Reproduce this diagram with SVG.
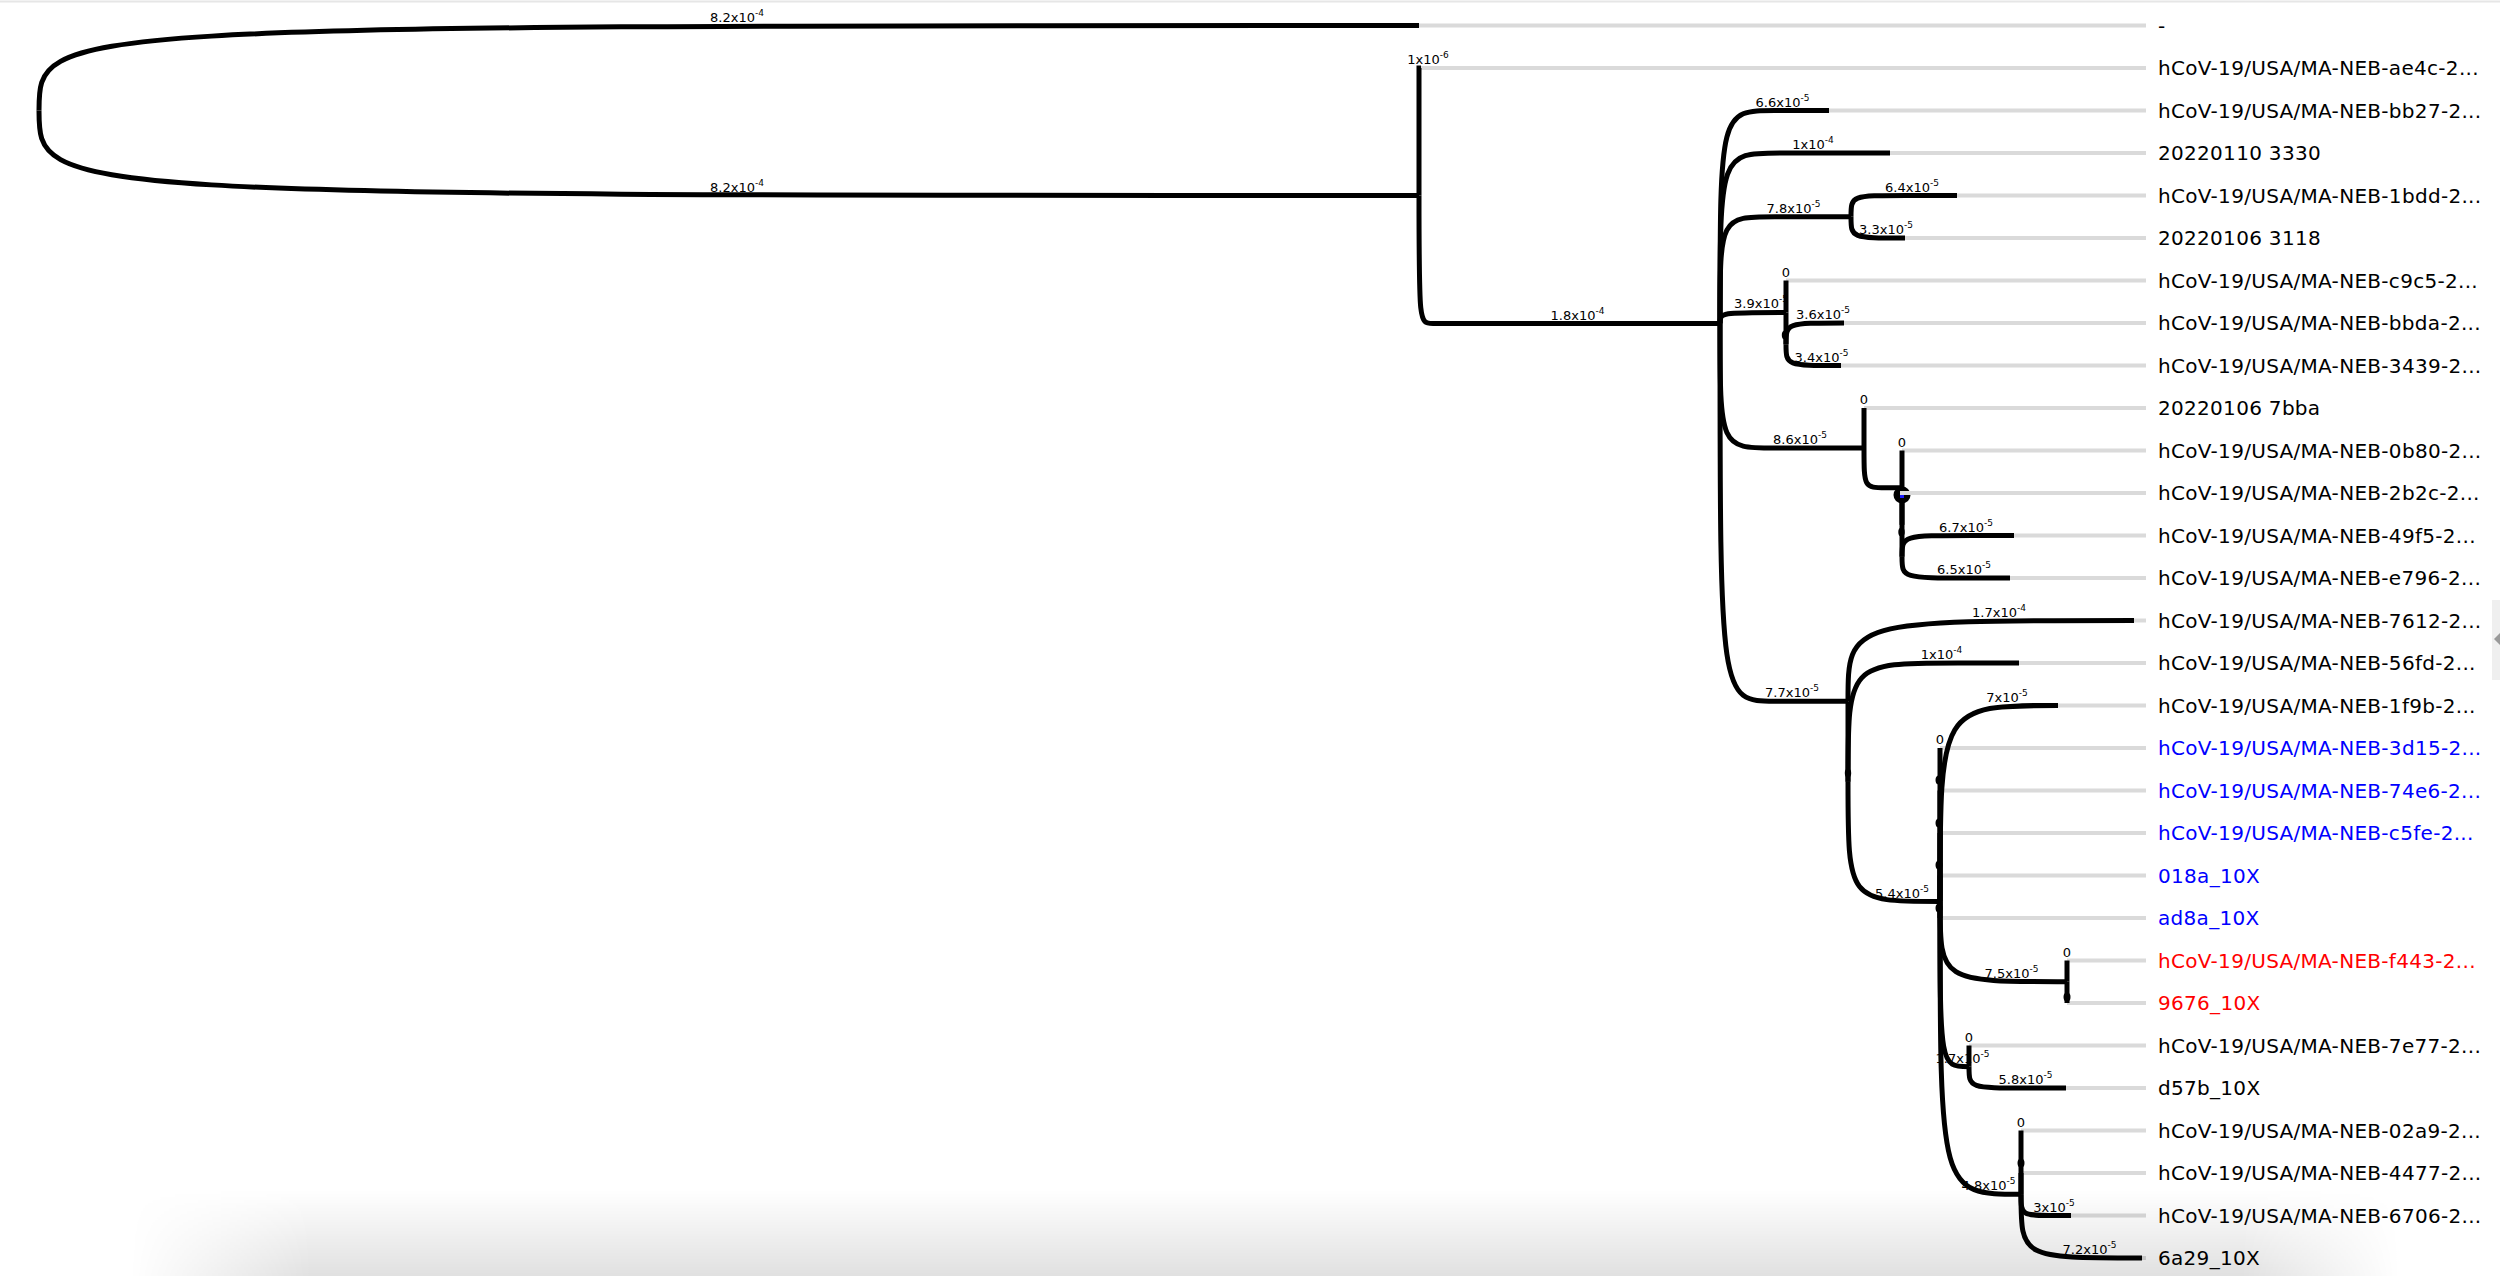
<svg xmlns="http://www.w3.org/2000/svg" width="2500" height="1276" viewBox="0 0 2500 1276">
<style>
.edge{fill:none;stroke:#000;stroke-width:5;stroke-linecap:butt}
.guide{stroke:#dadada;stroke-width:4}
.lbl{font-family:"DejaVu Sans","Liberation Sans",sans-serif;font-size:20px;letter-spacing:0.3px;fill:#000}
.blue{fill:#0000ff}
.red{fill:#ff0000}
.bl{font-family:"DejaVu Sans","Liberation Sans",sans-serif;font-size:13px;text-anchor:middle;fill:#000}
.sup{font-size:9px}
.dot{fill:#000}
</style>
<defs>
<linearGradient id="shadeV" x1="0" y1="0" x2="0" y2="1">
<stop offset="0" stop-color="#000" stop-opacity="0"/>
<stop offset="1" stop-color="#000" stop-opacity="0.12"/>
</linearGradient>
<linearGradient id="fadeH" x1="0" y1="0" x2="1" y2="0">
<stop offset="0" stop-color="#fff" stop-opacity="0"/>
<stop offset="0.08" stop-color="#fff" stop-opacity="1"/>
<stop offset="0.93" stop-color="#fff" stop-opacity="1"/>
<stop offset="1" stop-color="#fff" stop-opacity="0"/>
</linearGradient>
<mask id="shadeMask" maskUnits="userSpaceOnUse" x="0" y="1190" width="2500" height="86">
<rect x="130" y="1190" width="2270" height="86" fill="url(#fadeH)"/>
</mask>
</defs>
<rect x="0" y="0" width="2500" height="1276" fill="#fff"/>
<line x1="0" y1="1.5" x2="2500" y2="1.5" stroke="#e6e6e6" stroke-width="2"/>

<g id="branch-labels">
<text class="bl" x="737" y="21.5">8.2x10<tspan class="sup" dy="-6">-4</tspan></text>
<text class="bl" x="737" y="191.5">8.2x10<tspan class="sup" dy="-6">-4</tspan></text>
<text class="bl" x="1428" y="64">1x10<tspan class="sup" dy="-6">-6</tspan></text>
<text class="bl" x="1577.5" y="319.5">1.8x10<tspan class="sup" dy="-6">-4</tspan></text>
<text class="bl" x="1782.5" y="106.5">6.6x10<tspan class="sup" dy="-6">-5</tspan></text>
<text class="bl" x="1813" y="149">1x10<tspan class="sup" dy="-6">-4</tspan></text>
<text class="bl" x="1793.5" y="212.75">7.8x10<tspan class="sup" dy="-6">-5</tspan></text>
<text class="bl" x="1912" y="191.5">6.4x10<tspan class="sup" dy="-6">-5</tspan></text>
<text class="bl" x="1886" y="234">3.3x10<tspan class="sup" dy="-6">-5</tspan></text>
<text class="bl" x="1761" y="308.4">3.9x10<tspan class="sup" dy="-6">-5</tspan></text>
<text class="bl" x="1786" y="276.5">0</text>
<text class="bl" x="1823" y="319">3.6x10<tspan class="sup" dy="-6">-5</tspan></text>
<text class="bl" x="1821.5" y="361.5">3.4x10<tspan class="sup" dy="-6">-5</tspan></text>
<text class="bl" x="1800" y="444">8.6x10<tspan class="sup" dy="-6">-5</tspan></text>
<text class="bl" x="1864" y="404">0</text>
<text class="bl" x="1902" y="446.5">0</text>
<text class="bl" x="1966" y="531.5">6.7x10<tspan class="sup" dy="-6">-5</tspan></text>
<text class="bl" x="1964" y="574">6.5x10<tspan class="sup" dy="-6">-5</tspan></text>
<text class="bl" x="1792" y="697.2">7.7x10<tspan class="sup" dy="-6">-5</tspan></text>
<text class="bl" x="1999" y="616.5">1.7x10<tspan class="sup" dy="-6">-4</tspan></text>
<text class="bl" x="1941.5" y="659">1x10<tspan class="sup" dy="-6">-4</tspan></text>
<text class="bl" x="1902" y="897.5">5.4x10<tspan class="sup" dy="-6">-5</tspan></text>
<text class="bl" x="2007" y="701.5">7x10<tspan class="sup" dy="-6">-5</tspan></text>
<text class="bl" x="1940" y="744">0</text>
<text class="bl" x="2011.5" y="977.75">7.5x10<tspan class="sup" dy="-6">-5</tspan></text>
<text class="bl" x="2067" y="956.5">0</text>
<text class="bl" x="1962.5" y="1062.75">1.7x10<tspan class="sup" dy="-6">-5</tspan></text>
<text class="bl" x="1969" y="1041.5">0</text>
<text class="bl" x="2025.5" y="1084">5.8x10<tspan class="sup" dy="-6">-5</tspan></text>
<text class="bl" x="1988.5" y="1190.25">4.8x10<tspan class="sup" dy="-6">-5</tspan></text>
<text class="bl" x="2021" y="1126.5">0</text>
<text class="bl" x="2054" y="1211.5">3x10<tspan class="sup" dy="-6">-5</tspan></text>
<text class="bl" x="2089.5" y="1254">7.2x10<tspan class="sup" dy="-6">-5</tspan></text>
</g>

<g id="leaf-dash"><line class="guide" x1="1419" y1="25.5" x2="2146" y2="25.5"/><text class="lbl" x="2158" y="32.5">-</text></g>
<g id="leaf-ae4c"><line class="guide" x1="1421" y1="68" x2="2146" y2="68"/><text class="lbl" x="2158" y="75">hCoV-19/USA/MA-NEB-ae4c-2...</text></g>
<g id="leaf-bb27"><line class="guide" x1="1829" y1="110.5" x2="2146" y2="110.5"/><text class="lbl" x="2158" y="117.5">hCoV-19/USA/MA-NEB-bb27-2...</text></g>
<g id="leaf-3330"><line class="guide" x1="1890" y1="153" x2="2146" y2="153"/><text class="lbl" x="2158" y="160">20220110 3330</text></g>
<g id="leaf-1bdd"><line class="guide" x1="1957" y1="195.5" x2="2146" y2="195.5"/><text class="lbl" x="2158" y="202.5">hCoV-19/USA/MA-NEB-1bdd-2...</text></g>
<g id="leaf-3118"><line class="guide" x1="1905" y1="238" x2="2146" y2="238"/><text class="lbl" x="2158" y="245">20220106 3118</text></g>
<g id="leaf-c9c5"><line class="guide" x1="1786" y1="280.5" x2="2146" y2="280.5"/><text class="lbl" x="2158" y="287.5">hCoV-19/USA/MA-NEB-c9c5-2...</text></g>
<g id="leaf-bbda"><line class="guide" x1="1844" y1="323" x2="2146" y2="323"/><text class="lbl" x="2158" y="330">hCoV-19/USA/MA-NEB-bbda-2...</text></g>
<g id="leaf-3439"><line class="guide" x1="1841" y1="365.5" x2="2146" y2="365.5"/><text class="lbl" x="2158" y="372.5">hCoV-19/USA/MA-NEB-3439-2...</text></g>
<g id="leaf-7bba"><line class="guide" x1="1864" y1="408" x2="2146" y2="408"/><text class="lbl" x="2158" y="415">20220106 7bba</text></g>
<g id="leaf-0b80"><line class="guide" x1="1902" y1="450.5" x2="2146" y2="450.5"/><text class="lbl" x="2158" y="457.5">hCoV-19/USA/MA-NEB-0b80-2...</text></g>
<g id="leaf-49f5"><line class="guide" x1="2014" y1="535.5" x2="2146" y2="535.5"/><text class="lbl" x="2158" y="542.5">hCoV-19/USA/MA-NEB-49f5-2...</text></g>
<g id="leaf-e796"><line class="guide" x1="2010" y1="578" x2="2146" y2="578"/><text class="lbl" x="2158" y="585">hCoV-19/USA/MA-NEB-e796-2...</text></g>
<g id="leaf-7612"><line class="guide" x1="2134" y1="620.5" x2="2146" y2="620.5"/><text class="lbl" x="2158" y="627.5">hCoV-19/USA/MA-NEB-7612-2...</text></g>
<g id="leaf-56fd"><line class="guide" x1="2019" y1="663" x2="2146" y2="663"/><text class="lbl" x="2158" y="670">hCoV-19/USA/MA-NEB-56fd-2...</text></g>
<g id="leaf-1f9b"><line class="guide" x1="2058" y1="705.5" x2="2146" y2="705.5"/><text class="lbl" x="2158" y="712.5">hCoV-19/USA/MA-NEB-1f9b-2...</text></g>
<g id="leaf-3d15"><line class="guide" x1="1940" y1="748" x2="2146" y2="748"/><text class="lbl blue" x="2158" y="755">hCoV-19/USA/MA-NEB-3d15-2...</text></g>
<g id="leaf-74e6"><line class="guide" x1="1940" y1="790.5" x2="2146" y2="790.5"/><text class="lbl blue" x="2158" y="797.5">hCoV-19/USA/MA-NEB-74e6-2...</text></g>
<g id="leaf-c5fe"><line class="guide" x1="1940" y1="833" x2="2146" y2="833"/><text class="lbl blue" x="2158" y="840">hCoV-19/USA/MA-NEB-c5fe-2...</text></g>
<g id="leaf-018a"><line class="guide" x1="1940" y1="875.5" x2="2146" y2="875.5"/><text class="lbl blue" x="2158" y="882.5">018a_10X</text></g>
<g id="leaf-ad8a"><line class="guide" x1="1940" y1="918" x2="2146" y2="918"/><text class="lbl blue" x="2158" y="925">ad8a_10X</text></g>
<g id="leaf-f443"><line class="guide" x1="2067" y1="960.5" x2="2146" y2="960.5"/><text class="lbl red" x="2158" y="967.5">hCoV-19/USA/MA-NEB-f443-2...</text></g>
<g id="leaf-9676"><line class="guide" x1="2067" y1="1003" x2="2146" y2="1003"/><text class="lbl red" x="2158" y="1010">9676_10X</text></g>
<g id="leaf-7e77"><line class="guide" x1="1969" y1="1045.5" x2="2146" y2="1045.5"/><text class="lbl" x="2158" y="1052.5">hCoV-19/USA/MA-NEB-7e77-2...</text></g>
<g id="leaf-d57b"><line class="guide" x1="2066" y1="1088" x2="2146" y2="1088"/><text class="lbl" x="2158" y="1095">d57b_10X</text></g>
<g id="leaf-02a9"><line class="guide" x1="2021" y1="1130.5" x2="2146" y2="1130.5"/><text class="lbl" x="2158" y="1137.5">hCoV-19/USA/MA-NEB-02a9-2...</text></g>
<g id="leaf-4477"><line class="guide" x1="2021" y1="1173" x2="2146" y2="1173"/><text class="lbl" x="2158" y="1180">hCoV-19/USA/MA-NEB-4477-2...</text></g>
<g id="leaf-6706"><line class="guide" x1="2071" y1="1215.5" x2="2146" y2="1215.5"/><text class="lbl" x="2158" y="1222.5">hCoV-19/USA/MA-NEB-6706-2...</text></g>
<g id="leaf-6a29"><line class="guide" x1="2142" y1="1258" x2="2146" y2="1258"/><text class="lbl" x="2158" y="1265">6a29_10X</text></g>

<g id="connectors">
<path class="edge" d="M39,110.5 C39,25.5 39,25.5 1419,25.5"/>
<path class="edge" d="M39,110.5 C39,195.5 39,195.5 1419,195.5"/>
<path class="edge" d="M1419,195.5 L1419,68 L1421,68"/>
<path class="edge" d="M1419,195.5 C1419,323.5 1419,323.5 1433,323.5 L1720,323.5"/>
<path class="edge" d="M1720,323.5 C1720,110.5 1720,110.5 1775,110.5 L1829,110.5"/>
<path class="edge" d="M1720,323.5 C1720,153 1720,153 1780,153 L1890,153"/>
<path class="edge" d="M1720,323.5 C1720,216.75 1720,216.75 1775,216.75 L1851,216.75"/>
<path class="edge" d="M1720,323.5 C1720,312.4 1720,312.4 1786,312.4"/>
<path class="edge" d="M1720,323.5 C1720,448 1720,448 1775,448 L1864,448"/>
<path class="edge" d="M1720,323.5 C1720,701.2 1720,701.2 1775,701.2 L1848,701.2"/>
<path class="edge" d="M1851,216.75 C1851,195.5 1851,195.5 1906,195.5 L1957,195.5"/>
<path class="edge" d="M1851,216.75 C1851,238 1851,238 1905,238"/>
<path class="edge" d="M1786,312.4 L1786,280.5"/>
<path class="edge" d="M1786,312.4 L1786,344.25"/>
<path class="edge" d="M1786,344.25 C1786,323 1786,323 1844,323"/>
<path class="edge" d="M1786,344.25 C1786,365.5 1786,365.5 1841,365.5"/>
<path class="edge" d="M1864,448 L1864,408"/>
<path class="edge" d="M1864,448 C1864,487.7 1864,487.7 1886,487.7 L1902,487.7"/>
<path class="edge" d="M1902,487.7 L1902,450.5"/>
<path class="edge" d="M1902,487.7 L1902,524.9"/>
<path class="edge" d="M1902,524.9 L1902,493"/>
<path class="edge" d="M1902,524.9 L1902,556.75"/>
<path class="edge" d="M1902,556.75 C1902,535.5 1902,535.5 1972,535.5 L2014,535.5"/>
<path class="edge" d="M1902,556.75 C1902,578 1902,578 1972,578 L2010,578"/>
<path class="edge" d="M1848,701.2 C1848,620.5 1848,620.5 2134,620.5"/>
<path class="edge" d="M1848,701.2 L1848,781.8"/>
<path class="edge" d="M1848,781.8 C1848,663 1848,663 1958,663 L2019,663"/>
<path class="edge" d="M1848,781.8 C1848,901.5 1848,901.5 1940,901.5"/>
<path class="edge" d="M1940,901.5 C1940,705.5 1940,705.5 2058,705.5"/>
<path class="edge" d="M1940,901.5 L1940,748"/>
<path class="edge" d="M1940,901.5 L1940,790.5"/>
<path class="edge" d="M1940,901.5 L1940,833"/>
<path class="edge" d="M1940,901.5 L1940,875.5"/>
<path class="edge" d="M1940,901.5 L1940,918"/>
<path class="edge" d="M1940,901.5 C1940,981.75 1940,981.75 2067,981.75"/>
<path class="edge" d="M1940,901.5 C1940,1066.75 1940,1066.75 1969,1066.75"/>
<path class="edge" d="M1940,901.5 C1940,1194.25 1940,1194.25 2021,1194.25"/>
<path class="edge" d="M2067,981.75 L2067,960.5"/>
<path class="edge" d="M2067,981.75 L2067,1003"/>
<path class="edge" d="M1969,1066.75 L1969,1045.5"/>
<path class="edge" d="M1969,1066.75 C1969,1088 1969,1088 2029,1088 L2066,1088"/>
<path class="edge" d="M2021,1194.25 L2021,1130.5"/>
<path class="edge" d="M2021,1194.25 L2021,1173"/>
<path class="edge" d="M2021,1194.25 C2021,1215.5 2021,1215.5 2056,1215.5 L2071,1215.5"/>
<path class="edge" d="M2021,1194.25 C2021,1258 2021,1258 2142,1258"/>
<ellipse class="dot" cx="1785" cy="335" rx="3.2" ry="4.5"/>
<ellipse class="dot" cx="1901.5" cy="532" rx="3.2" ry="4.5"/>
<ellipse class="dot" cx="1848" cy="773" rx="3.2" ry="4.5"/>
<ellipse class="dot" cx="1939" cy="780" rx="3.5" ry="4.5"/>
<ellipse class="dot" cx="1939" cy="823" rx="3.5" ry="4.5"/>
<ellipse class="dot" cx="1939" cy="865" rx="3.5" ry="4.5"/>
<ellipse class="dot" cx="1939" cy="908" rx="3.5" ry="4.5"/>
<ellipse class="dot" cx="2067" cy="997" rx="3.5" ry="4.5"/>
<ellipse class="dot" cx="2021" cy="1163" rx="3.5" ry="4.5"/>
</g>

<g id="leaf-2b2c">
<circle cx="1902" cy="495" r="8.5" fill="#000"/>
<rect x="1900" y="494" width="4" height="4" fill="#1a1aff"/>
<line class="guide" x1="1900" y1="493" x2="2146" y2="493"/>
<text class="lbl" x="2158" y="500">hCoV-19/USA/MA-NEB-2b2c-2...</text>
</g>

<g id="panel-handle">
<rect x="2492" y="600" width="8" height="80" fill="#efefef"/>
<path d="M2500,633 L2494,639 L2500,645 Z" fill="#9a9a9a"/>
</g>
<rect x="130" y="1190" width="2270" height="86" fill="url(#shadeV)" mask="url(#shadeMask)"/>
</svg>
